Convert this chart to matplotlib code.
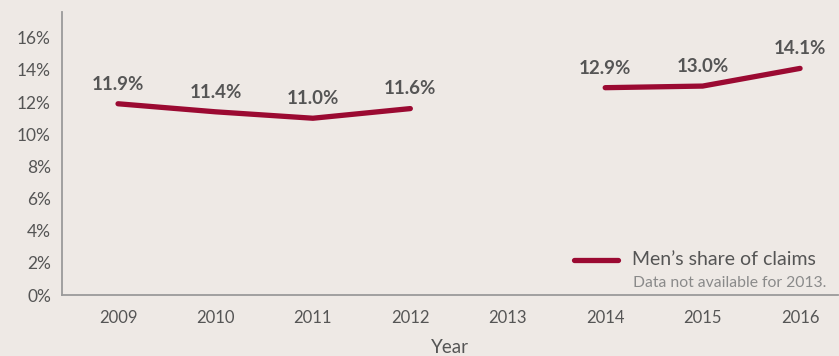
import numpy as np
import matplotlib
matplotlib.use("Agg")
import matplotlib.pyplot as plt

plt.rcParams['font.family'] = ['Lato', 'DejaVu Sans']

years = [2009, 2010, 2011, 2012, 2013, 2014, 2015, 2016]
share = [11.9, 11.4, 11.0, 11.6, np.nan, 12.9, 13.0, 14.1]
y_ticks = [0, 2, 4, 6, 8, 10, 12, 14, 16]
y_tick_labels = [f"{v}%" for v in y_ticks]
series_name = "Men\u2019s share of claims"
note_text = "Data not available for 2013."

bg = "#EEE9E5"
line_color = "#9B0A32"
text_color = "#555555"

fig = plt.figure(figsize=(8.39, 3.56), dpi=100, facecolor=bg)
ax = fig.add_axes([0.0739, 0.171, 0.925, 0.795], facecolor=bg)

ax.plot(years, share, color=line_color, lw=3.8, solid_capstyle='round',
        solid_joinstyle='miter')

for x, v in zip(years, share):
    if np.isnan(v):
        continue
    ax.annotate(f"{v:.1f}%", (x, v), xytext=(0, 8), textcoords='offset points',
                ha='center', va='bottom', fontsize=13.5, fontweight='bold',
                color=text_color)

ax.set_xlim(2008.425, 2016.39)
ax.set_ylim(0, 17.6)
ax.set_xticks(years)
ax.set_xticklabels([str(y) for y in years], fontsize=12, color=text_color)
ax.set_yticks(y_ticks)
ax.set_yticklabels(y_tick_labels, fontsize=12.5, color=text_color)
ax.tick_params(length=0, pad=8)
ax.tick_params(axis='x', pad=11)

for side in ('top', 'right'):
    ax.spines[side].set_visible(False)
for side in ('left', 'bottom'):
    ax.spines[side].set_color('#9A9A9A')
    ax.spines[side].set_linewidth(1.3)

ax.set_xlabel("Year", fontsize=13.5, color=text_color, labelpad=9)

# legend drawn by hand: swatch line plus label, and a note underneath
ax.plot([0.66, 0.716], [0.124, 0.124], transform=ax.transAxes,
        color=line_color, lw=3.8, solid_capstyle='round')
ax.text(0.734, 0.126, series_name, transform=ax.transAxes, ha='left',
        va='center', fontsize=14, color=text_color)
ax.text(0.985, 0.042, note_text, transform=ax.transAxes, ha='right',
        va='center', fontsize=11.3, color='#8A8A8A')

fig.savefig("out.png", dpi=100, facecolor=bg)
